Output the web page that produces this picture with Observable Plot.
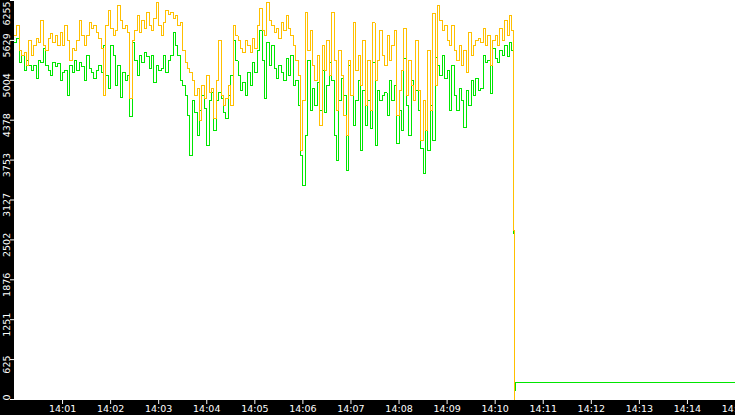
<!DOCTYPE html>
<html>
<head>
<meta charset="utf-8">
<script src="https://cdn.jsdelivr.net/npm/d3@7"></script>
<script src="https://cdn.jsdelivr.net/npm/@observablehq/plot@0.6"></script>
<style>
  html, body { margin: 0; padding: 0; background: #000; }
  #chart svg { display: block; }
</style>
</head>
<body>
<div id="chart"></div>
<script>
// ---- Data ----
const startUTC = Date.UTC(2024, 0, 1, 14, 0, 0); // 14:00:00
const stepSeconds = 3;

const goldValues = [
5706,5863,5471,5393,5440,5236,5628,5393,5549,5659,
5596,5941,5549,5471,5659,5738,5596,5706,5549,5753,
5549,5863,5628,5314,5502,5471,5628,5941,5706,5549,
5706,5910,5816,5863,5753,5659,5502,4765,5863,6098,
5816,5706,5785,6177,5941,5816,5863,5753,4718,5628,
5785,6020,5753,5941,5816,6067,5863,5785,5973,6224,
5863,5706,5910,6098,6035,6067,5973,6020,5863,5910,
5471,5283,5189,5126,5001,4765,4875,4373,4922,4718,
5079,4812,4875,4405,5001,5628,4765,4609,4718,4922,
4609,5863,5706,5628,5502,5440,5628,5549,5440,5659,
5502,5863,6130,5785,5706,6224,5941,5863,5753,5816,
5659,5910,5785,6020,5816,5706,5549,5314,5079,3903,
4687,6067,5471,5785,5236,5001,5393,4295,5549,5157,
5628,5079,6067,5314,4530,5471,5079,4452,4138,5314,
4765,5910,5157,5393,4922,5628,4609,5314,4530,5910,
5001,5314,5785,5393,5236,5706,5314,5549,5785,4452,
4844,5157,5816,4765,5314,4922,4687,5628,4844,4060,
4687,4217,5471,4530,6051,4922,6177,5941,5785,5863,
5628,5549,5863,5471,5314,5549,5236,5471,5126,5753,
5393,5549,5628,5659,5596,5816,5549,5706,5236,5628,
5706,5549,5816,5628,5941,5706,6020,5785
];

const greenValues = [
5596,5659,5283,5393,5157,5314,5236,5157,5236,5032,
5314,5283,5502,5236,5157,5079,5283,5220,5267,5001,
5126,5157,4765,5236,5126,5314,5157,5283,5220,5001,
5393,5189,5126,5032,5157,5236,5126,5549,5079,4875,
5549,5393,4922,5236,4734,5126,5001,5079,4436,5596,
5314,5079,5393,5283,5440,5377,5189,5393,4969,5236,
5157,5189,5393,5126,5314,5393,5753,5549,5393,5001,
4922,4765,4452,3825,4687,4499,4138,4530,4765,4562,
3981,4687,4812,4217,4687,4812,4718,4499,4405,4765,
5079,5628,5314,5079,4844,4969,4765,5126,4922,5283,
5126,5471,5785,5314,4718,5596,5236,5549,5189,5032,
5236,5126,5001,5346,5079,5393,4922,5001,4609,3825,
3354,4138,5314,4530,4875,4609,4969,4530,5157,4499,
4922,5283,5001,4138,3746,4687,5032,4765,3589,5236,
4765,4295,4687,5001,3903,4844,4295,4687,4248,5283,
3981,4844,4687,4765,4812,4452,5001,4687,4922,4013,
4530,4217,5346,4609,4138,5001,4687,4844,4530,3934,
3542,4217,3903,4609,4060,5361,5236,5079,5393,5032,
5157,4530,5236,4765,4530,4875,4687,4264,4844,4609,
5001,4765,5032,4844,4875,5393,5283,5314,4797,5502,
5346,5283,5471,5393,5549,5377,5596,5471
];

// values after the drop at ~14:10:23 (seconds after 14:00:00, value)
const goldTailSeconds = [623, 624];
const goldTailValues  = [2650, 0];
const greenTailSeconds = [623, 624, 625, 900];
const greenTailValues  = [2600, 140, 267, 267];

const yTickValues = [0, 625.5, 1251, 1876.5, 2502, 3127.5, 3753, 4378.5, 5004, 5629.5, 6255];
const yTickLabels = ["0","625","1251","1876","2502","3127","3753","4378","5004","5629","6255"];
const xTickMinutes = [1,2,3,4,5,6,7,8,9,10,11,12,13,14,15];

// ---- Build tables ----
const toDate = s => new Date(startUTC + s * 1000);
const gold = goldValues.map((v, i) => ({t: toDate(i * stepSeconds), v}))
  .concat(goldTailSeconds.map((s, i) => ({t: toDate(s), v: goldTailValues[i]})));
const green = greenValues.map((v, i) => ({t: toDate(i * stepSeconds), v}))
  .concat(greenTailSeconds.map((s, i) => ({t: toDate(s), v: greenTailValues[i]})));
const yTicks = yTickValues.map((v, i) => ({v, label: yTickLabels[i]}));
const xTicks = xTickMinutes.map(m => toDate(m * 60));
const fmtX = d3.utcFormat("%H:%M");

const font = "DejaVu Sans, sans-serif";
const GREEN = "#00e600";
const GOLD = "#ffc000";
const yLabel = (data, dy) => Plot.text(data, {
  y: "v", text: "label", frameAnchor: "left", rotate: -90,
  textAnchor: "middle", lineAnchor: "middle", dx: -8, dy,
  fill: "white", fontSize: 9.5
});

const chart = Plot.plot({
  width: 735,
  height: 415,
  marginLeft: 14,
  marginRight: 0,
  marginTop: 0,
  marginBottom: 16,
  style: {background: "black", fontFamily: font, color: "white", overflow: "hidden"},
  x: {type: "utc", domain: [toDate(0), toDate(900)], label: null},
  y: {domain: [0, 6255], label: null},
  marks: [
    Plot.frame({fill: "white", stroke: "white"}),
    Plot.line(green, {x: "t", y: "v", stroke: GREEN, strokeWidth: 1, curve: "step-after", shapeRendering: "crispEdges"}),
    Plot.line(gold, {x: "t", y: "v", stroke: GOLD, strokeWidth: 1, curve: "step-after", shapeRendering: "crispEdges"}),
    Plot.axisX({ticks: xTicks, tickSize: 5, tickPadding: 1, tickFormat: fmtX, stroke: "white", fill: "white", fontSize: 9.5, anchor: "bottom", label: null}),
    Plot.axisY({ticks: yTickValues, tickSize: 4, tickFormat: () => "", stroke: "white", anchor: "left", label: null}),
    yLabel(yTicks.slice(1, -1), 5),
    yLabel(yTicks.slice(0, 1), -2),
    yLabel(yTicks.slice(-1), 13)
  ]
});
document.getElementById("chart").appendChild(chart);
</script>
</body>
</html>
